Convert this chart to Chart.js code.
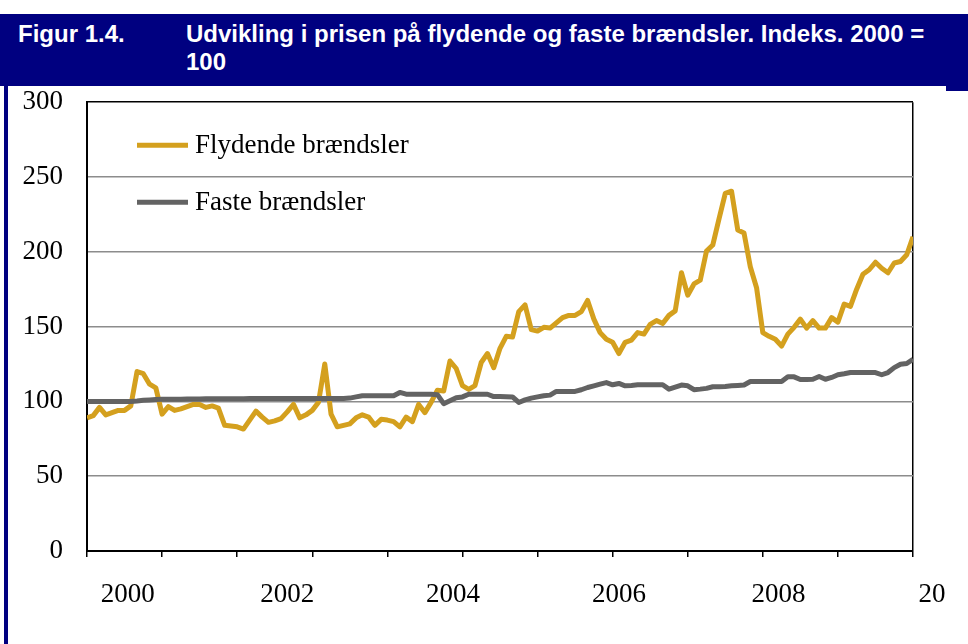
<!doctype html>
<html>
<head>
<meta charset="utf-8">
<title>Figur 1.4</title>
<script src="https://cdn.jsdelivr.net/npm/chart.js"></script>
<style>
  body { margin:0; background:#fff; width:968px; height:644px; overflow:hidden; position:relative; font-family:"Liberation Sans", Arial, sans-serif; }
  #head { position:absolute; left:0; top:14px; width:968px; height:72px; background:#000080; color:#fff; font-weight:bold; font-size:24px; line-height:28px; }
  #head .num { position:absolute; left:18px; top:6px; }
  #head .txt { position:absolute; left:186px; top:6px; white-space:nowrap; }
  #edge { position:absolute; left:4px; top:86px; width:4px; height:558px; background:#000080; }
  #corner { position:absolute; left:946px; top:86px; width:22px; height:5px; background:#000080; }
  #frame { position:absolute; left:0; top:0; width:947px; height:644px; overflow:hidden; }
  #frame canvas { position:absolute; left:0; top:62px; }
</style>
</head>
<body>
<div id="head">
  <div class="num">Figur 1.4.</div>
  <div class="txt">Udvikling i prisen på flydende og faste brændsler. Indeks. 2000 =<br>100</div>
</div>
<div id="edge"></div>
<div id="corner"></div>
<div id="frame"><canvas id="chart" width="1000" height="555"></canvas></div>

<script>
// monthly index values, Jan 2000 .. Jan 2011
const flydende = [
  89, 90.5, 96, 91, 92.5, 94, 94, 97, 120, 118.5, 111.5, 109,
  91.5, 96.5, 94, 95, 96.5, 98, 98, 96, 97, 95.5, 84, 83.5,
  83, 81.5, 87.5, 93.5, 89.5, 86, 87, 88.5, 93, 98, 89, 91,
  94, 99.5, 125, 91.5, 83, 84, 85, 89, 91, 89.5, 84, 88,
  87.5, 86.5, 83, 89.5, 86.5, 98, 92.5, 99.5, 107.5, 107, 127, 122,
  110.5, 108, 110.5, 126, 132, 122.5, 135.5, 143.5, 143, 160, 164.5, 148,
  147, 149.5, 149, 152.5, 156, 157.5, 157.5, 160, 167.5, 155, 146, 141.5,
  139.5, 132, 139.5, 141, 146, 145, 151.5, 154, 152, 157.5, 160.5, 186,
  171, 178.5, 181, 200.5, 204.5, 222, 239, 240.5, 214.5, 212.5, 190, 176,
  146, 143.5, 141.5, 137, 145, 149.5, 155, 149, 154, 149, 149, 156,
  153, 165, 163.5, 175, 185, 188, 193, 189, 186, 192.5, 193.5, 198,
  210
];
const faste = [
  100, 100, 100, 100, 100, 100, 100, 100, 100.3, 100.7, 101, 101.3,
  101.5, 101.5, 101.5, 101.5, 101.6, 101.6, 101.6, 101.7, 101.7, 101.7, 101.8, 101.8,
  101.8, 101.8, 101.9, 101.9, 101.9, 102, 102, 102, 102, 102, 102, 102,
  102, 102, 102, 102, 102, 102, 102.2, 103, 103.8, 103.8, 103.8, 103.8,
  103.8, 103.8, 106, 104.8, 104.8, 104.8, 104.8, 104.8, 104.5, 98.5, 100.5, 102.5,
  103, 104.8, 104.8, 104.8, 104.8, 103.2, 103.2, 103.1, 103, 99.3, 101, 102.2,
  103, 103.8, 104.2, 106.7, 106.7, 106.7, 106.7, 107.8, 109.3, 110.4, 111.5, 112.6,
  111.1, 112, 110.4, 110.7, 111.1, 111.1, 111.1, 111.1, 111.1, 108.2, 109.5, 110.9,
  110.4, 107.8, 108.2, 108.7, 109.8, 109.8, 110, 110.4, 110.7, 111, 113.3, 113.3,
  113.3, 113.3, 113.3, 113.3, 116.4, 116.4, 114.6, 114.7, 114.8, 116.6, 114.8, 116,
  117.8, 118.5, 119.3, 119.3, 119.3, 119.3, 119.3, 117.8, 119.3, 122.6, 124.8, 125.3,
  128.2
];
const seriesNames = ['Flydende brændsler', 'Faste brændsler'];
const yearTickPos = [0, 12, 24, 36, 48, 60, 72, 84, 96, 108, 120, 132];
const yearLabelPos = [6.5, 32, 58.5, 85, 110.5, 137.2];
const yearLabels = ['2000', '2002', '2004', '2006', '2008', '2010'];
const yTicks = [0, 50, 100, 150, 200, 250, 300];

const gold = '#d4a01e';
const grey = '#636363';
const serif = '"Liberation Serif", "Times New Roman", serif';

// legend sits inside the plot, top left
const insideLegend = {
  id: 'insideLegend',
  afterDraw(chart) {
    const c = chart.ctx;
    const a = chart.chartArea;
    const rows = [43, 100];
    c.save();
    c.font = '27px ' + serif;
    c.textBaseline = 'middle';
    c.fillStyle = '#000';
    chart.data.datasets.forEach((ds, i) => {
      const y = a.top + rows[i];
      c.strokeStyle = ds.borderColor;
      c.lineWidth = 5;
      c.beginPath();
      c.moveTo(a.left + 50, y);
      c.lineTo(a.left + 101, y);
      c.stroke();
      c.fillText(ds.label, a.left + 108, y + 1);
    });
    c.restore();
  }
};

new Chart(document.getElementById('chart'), {
  type: 'line',
  data: {
    labels: flydende.map((_, i) => i),
    datasets: [
      { label: seriesNames[0], data: flydende, borderColor: gold, borderWidth: 5, pointRadius: 0, tension: 0, borderJoinStyle: 'round', order: 1 },
      { label: seriesNames[1], data: faste, borderColor: grey, borderWidth: 5, pointRadius: 0, tension: 0, borderJoinStyle: 'round', order: 0 }
    ]
  },
  options: {
    responsive: false,
    animation: false,
    layout: { padding: { left: 0, right: 87, top: 30, bottom: 0 } },
    plugins: { legend: { display: false }, tooltip: { enabled: false } },
    scales: {
      x: {
        type: 'linear', position: 'bottom', min: 0, max: 132,
        afterBuildTicks: s => { s.ticks = yearTickPos.map(v => ({ value: v })); },
        afterFit: s => { s.height = 6; },
        ticks: { display: false },
        grid: {
          color: c => (c.tick && c.tick.value === 132) ? '#000' : 'rgba(0,0,0,0)',
          lineWidth: 1.5, tickColor: '#000', tickWidth: 1.5, tickLength: 6
        },
        border: { color: '#000', width: 2 }
      },
      x2: {
        type: 'linear', position: 'bottom', min: 0, max: 132, weight: 1,
        afterBuildTicks: s => { s.ticks = yearLabelPos.map(v => ({ value: v })); },
        afterFit: s => { s.height = 60; },
        ticks: { autoSkip: false, maxRotation: 0, padding: 22, color: '#000', font: { family: serif, size: 27 }, callback: (v, i) => yearLabels[i] },
        grid: { display: false, drawTicks: false },
        border: { display: false }
      },
      y: {
        min: 0, max: 300,
        afterBuildTicks: s => { s.ticks = yTicks.map(v => ({ value: v })); },
        afterFit: s => { s.width = 87; },
        ticks: { padding: 24, color: '#000', font: { family: serif, size: 27 } },
        grid: {
          drawTicks: false,
          color: c => c.tick.value === 300 ? '#000' : (c.tick.value === 0 ? 'rgba(0,0,0,0)' : '#8c8c8c'),
          lineWidth: 1.5
        },
        border: { color: '#000', width: 2 }
      }
    }
  },
  plugins: [insideLegend]
});
</script>
</body>
</html>
